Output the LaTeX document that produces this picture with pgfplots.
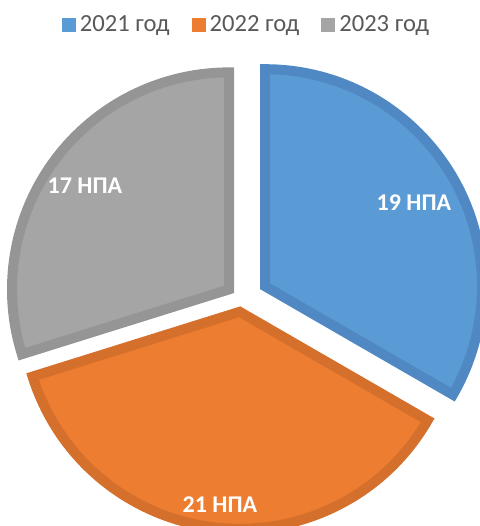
\documentclass[border=0pt]{standalone}
\usepackage{fontspec}
\setmainfont{Carlito}
\usepackage{pgfplots}
\usepackage{pgfplotstable}
\pgfplotsset{compat=1.18}
\definecolor{c1}{HTML}{5B9BD5}\definecolor{c1d}{HTML}{4F88C2}
\definecolor{c2}{HTML}{ED7D31}\definecolor{c2d}{HTML}{D5702C}
\definecolor{c3}{HTML}{A5A5A5}\definecolor{c3d}{HTML}{959595}
\definecolor{legtext}{HTML}{595959}
% value = number of acts; px,py = apex of exploded slice; lx,ly = label centre (1 unit = 1 px)
\pgfplotstableread{
year value px py lx ly
2021 19 265 239.8 414 323
2022 21 239.7 214.2 220 21
2023 17 229 236.6 85 340
}\piedata
\newcommand\getv[3]{\pgfplotstablegetelem{#1}{#2}\of\piedata\global\let#3\pgfplotsretval}
\newcommand\slice[6]{%
  \filldraw[fill=#5, draw=#6, line width=5pt, line join=miter]
    (axis cs:#1,#2) -- ++(#3:108.5pt) arc[start angle=#3, end angle=#4, radius=108.5pt] -- cycle;}
\begin{document}
\begin{tikzpicture}
\getv{0}{value}\va \getv{1}{value}\vb \getv{2}{value}\vc
\getv{0}{px}\pxa \getv{1}{px}\pxb \getv{2}{px}\pxc
\getv{0}{py}\pya \getv{1}{py}\pyb \getv{2}{py}\pyc
\getv{0}{lx}\lxa \getv{1}{lx}\lxb \getv{2}{lx}\lxc
\getv{0}{ly}\lya \getv{1}{ly}\lyb \getv{2}{ly}\lyc
\pgfmathsetmacro\tot{\va+\vb+\vc}
\pgfmathsetmacro\aA{90}
\pgfmathsetmacro\aB{90-360*\va/\tot}
\pgfmathsetmacro\aC{\aB-360*\vb/\tot}
\pgfmathsetmacro\aD{\aC-360*\vc/\tot}
\begin{axis}[name=ax,
  scale only axis, width=240pt, height=263pt,
  xmin=0, xmax=480, ymin=0, ymax=526,
  hide axis, clip=true,
  legend image code/.code={\fill[#1, draw=none] (0pt,-3.5pt) rectangle (7pt,3.5pt);},
  legend style={draw=none, fill=none, at={(0.5156,0.9525)}, anchor=center,
    legend columns=3, font=\fontsize{12.3}{14}\selectfont, text=legtext,
    /tikz/every even column/.append style={column sep=9pt}},
  legend cell align=left]
\addlegendimage{fill=c1, draw=none}\addlegendentry{2021 год}
\addlegendimage{fill=c2, draw=none}\addlegendentry{2022 год}
\addlegendimage{fill=c3, draw=none}\addlegendentry{2023 год}
\slice{\pxa}{\pya}{\aA}{\aB}{c1}{c1d}
\slice{\pxb}{\pyb}{\aB}{\aC}{c2}{c2d}
\slice{\pxc}{\pyc}{\aC}{\aD}{c3}{c3d}
\node[text=white, font=\bfseries\fontsize{12}{14}\selectfont] at (axis cs:\lxa,\lya) {\va\ НПА};
\node[text=white, font=\bfseries\fontsize{12}{14}\selectfont] at (axis cs:\lxb,\lyb) {\vb\ НПА};
\node[text=white, font=\bfseries\fontsize{12}{14}\selectfont] at (axis cs:\lxc,\lyc) {\vc\ НПА};
\end{axis}
\pgfresetboundingbox
\path[use as bounding box] (ax.south west) rectangle (ax.north east);
\end{tikzpicture}
\end{document}
